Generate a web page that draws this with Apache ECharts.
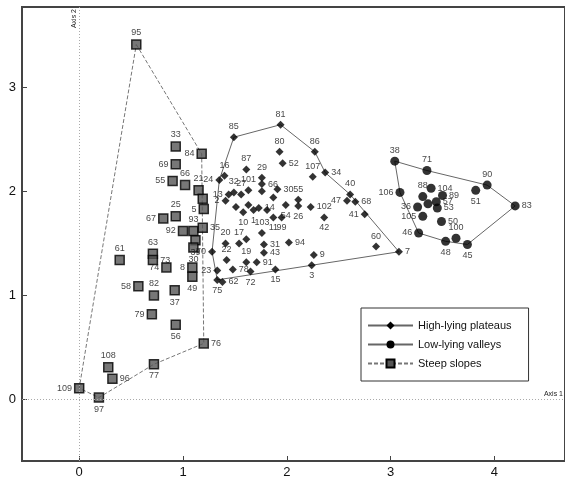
<!DOCTYPE html>
<html>
<head>
    <meta charset="utf-8">
    <title>Axis 1 / Axis 2</title>
    <script src="https://cdn.jsdelivr.net/npm/echarts@6/dist/echarts.min.js"></script>
    <style>
        html, body { margin: 0; padding: 0; background: #fff; }
        #main { width: 565px; height: 479px; }
    </style>
</head>
<body>
    <div id="main"></div>
    <script>
        // steep slopes (squares)
        var steepNames = ['95','84','33','69','55','66','21','','5','25','67','92','93','35','39','30','61','63','73','74','8','49','58','82','37','79','56','76','108','96','77','109','97']
        var steepX = [0.55,1.18,0.93,0.93,0.90,1.02,1.15,1.19,1.20,0.93,0.81,1.00,1.10,1.19,1.12,1.10,0.39,0.71,0.71,0.84,1.09,1.09,0.57,0.72,0.92,0.70,0.93,1.20,0.28,0.32,0.72,0.00,0.19]
        var steepY = [3.41,2.36,2.43,2.26,2.10,2.06,2.01,1.93,1.83,1.76,1.74,1.62,1.62,1.65,1.53,1.46,1.34,1.40,1.34,1.27,1.27,1.18,1.09,1.00,1.05,0.82,0.72,0.54,0.31,0.20,0.34,0.11,0.02]
        var steepLabelAt = ['t','l','t','l','l','t','t','','l','t','l','l','t','r','b','b','t','t','r','l','l','b','l','t','b','l','b','r','t','r','b','l','b']
        var steepHull = ['95','84','76','77','97','109','95']

        // low-lying valleys (circles)
        var lowNames = ['38','71','90','83','51','106','104','88','89','57','','36','53','105','50','46','100','48','45']
        var lowX = [3.04,3.35,3.93,4.20,3.82,3.09,3.39,3.31,3.50,3.44,3.36,3.26,3.45,3.31,3.49,3.27,3.63,3.53,3.74]
        var lowY = [2.29,2.20,2.06,1.86,2.01,1.99,2.03,1.95,1.96,1.90,1.88,1.85,1.84,1.76,1.71,1.60,1.55,1.52,1.49]
        var lowLabelAt = ['t','t','t','r','b','l','r','t','r','r','','l','r','l','r','l','t','b','b']
        var lowHull = ['38','71','90','83','45','48','46','106','38']

        // high-lying plateaus (diamonds)
        var highNames = ['85','81','80','86','87','52','107','34','29','16','24','66','65','30','55','26','54','102','42','40','47','68','41','60','7','9','3','94','31','43','103','17','28','20','22','19','91','72','15','75','62','23','78','70','13','32','27','2','101','64','10','1','14','11','99','12','44','18']
        var highX = [1.49,1.94,1.93,2.27,1.61,1.96,2.25,2.37,1.76,1.40,1.35,1.76,1.76,1.91,2.11,2.11,1.99,2.23,2.36,2.61,2.58,2.66,2.75,2.86,3.08,2.26,2.24,2.02,1.78,1.78,1.76,1.54,1.61,1.41,1.42,1.61,1.71,1.65,1.89,1.33,1.38,1.33,1.48,1.28,1.44,1.49,1.56,1.41,1.63,1.87,1.58,1.68,1.73,1.87,1.95,1.51,1.81,1.63]
        var highY = [2.52,2.64,2.38,2.38,2.21,2.27,2.14,2.18,2.13,2.15,2.11,2.07,2.00,2.02,1.92,1.86,1.87,1.85,1.75,1.97,1.91,1.90,1.78,1.47,1.42,1.39,1.29,1.51,1.49,1.41,1.60,1.50,1.54,1.50,1.34,1.32,1.32,1.23,1.25,1.15,1.13,1.24,1.25,1.42,1.97,1.99,1.97,1.91,2.01,1.94,1.80,1.82,1.84,1.75,1.75,1.85,1.82,1.87]
        var highLabelAt = ['t','t','t','t','t','r','t','r','t','t','l','r','','r','t','b','b','r','b','t','l','r','l','t','r','r','b','r','r','r','t','t','','t','t','t','r','b','b','b','r','l','r','l','l','t','t','l','t','','b','b','r','b','b','','','']
        var highHull = ['85','81','86','34','40','7','75','70','24','85']

        var xTicks = [0, 1, 2, 3, 4]
        var yTicks = [0, 1, 2, 3]

        var posMap = {t: 'top', b: 'bottom', l: 'left', r: 'right'}

        var makePoints = function(names, xs, ys, at) {
            var out = []
            for (var i = 0; i < names.length; i++) {
                var p = {name: names[i], value: [xs[i], ys[i]]}
                if (at[i] == '' || names[i] == '') {
                    p.label = {show: false}
                } else {
                    p.label = {position: posMap[at[i]]}
                }
                out.push(p)
            }
            return out
        }

        var makeHull = function(order, names, xs, ys) {
            var out = []
            for (var name of order) {
                var i = names.indexOf(name)
                out.push([xs[i], ys[i]])
            }
            return out
        }

        var font = 'Liberation Sans, Arial, sans-serif'
        var pointLabel = {
            show: true,
            formatter: '{b}',
            fontSize: 9,
            fontFamily: font,
            color: '#111',
            distance: 2
        }

        var myChart = echarts.init(document.querySelector('#main'))

        var option = {
            animation: false,
            textStyle: {fontFamily: font},
            grid: {
                left: 22, top: 7, right: -3, bottom: 13,
                show: true,
                borderColor: '#444',
                borderWidth: 2
            },
            legend: {
                orient: 'vertical',
                left: 361,
                top: 308,
                padding: [12, 17, 12, 6],
                itemWidth: 45,
                itemHeight: 10,
                itemGap: 8,
                borderColor: '#333',
                borderWidth: 1,
                backgroundColor: '#fff',
                textStyle: {fontSize: 11, color: '#111', fontFamily: font},
                data: ['High-lying plateaus', 'Low-lying valleys', 'Steep slopes']
            },
            xAxis: {
                type: 'value',
                min: -0.551,
                max: 4.68,
                splitLine: {show: false},
                axisLine: {onZero: false, lineStyle: {color: '#444', width: 2}},
                axisTick: {inside: true, length: 5, lineStyle: {color: '#444'}},
                axisLabel: {
                    fontSize: 13, color: '#111', margin: 5,
                    showMinLabel: false, showMaxLabel: false,
                    formatter: function(v) { return xTicks.indexOf(v) >= 0 ? String(v) : '' }
                }
            },
            yAxis: {
                type: 'value',
                min: -0.589,
                max: 3.77,
                splitLine: {show: false},
                axisLine: {onZero: false, lineStyle: {color: '#444', width: 2}},
                axisTick: {inside: true, length: 5, lineStyle: {color: '#444'}},
                axisLabel: {
                    fontSize: 13, color: '#111', margin: 6,
                    showMinLabel: false, showMaxLabel: false,
                    formatter: function(v) { return yTicks.indexOf(v) >= 0 ? String(v) : '' }
                }
            },
            series: [
                {
                    name: 'High-lying plateaus',
                    type: 'line',
                    data: makeHull(highHull, highNames, highX, highY),
                    symbol: 'diamond',
                    symbolSize: 8,
                    showSymbol: false,
                    silent: true,
                    itemStyle: {color: '#000'},
                    lineStyle: {color: '#666', width: 1}
                },
                {
                    name: 'Low-lying valleys',
                    type: 'line',
                    data: makeHull(lowHull, lowNames, lowX, lowY),
                    symbol: 'circle',
                    symbolSize: 9,
                    showSymbol: false,
                    silent: true,
                    itemStyle: {color: '#000'},
                    lineStyle: {color: '#666', width: 1}
                },
                {
                    name: 'Steep slopes',
                    type: 'line',
                    data: makeHull(steepHull, steepNames, steepX, steepY),
                    symbol: 'rect',
                    symbolSize: 9,
                    showSymbol: false,
                    silent: true,
                    itemStyle: {color: '#555', borderColor: '#000', borderWidth: 1.5},
                    lineStyle: {color: '#777', width: 1, type: [4, 2]},
                    markLine: {
                        silent: true,
                        symbol: 'none',
                        lineStyle: {color: '#aaa', width: 1, type: [1, 2]},
                        label: {
                            show: true,
                            position: 'insideEndTop',
                            fontSize: 7,
                            color: '#222',
                            distance: 2
                        },
                        data: [
                            {xAxis: 0, label: {formatter: 'Axis 2'}},
                            {yAxis: 0, label: {formatter: 'Axis 1'}}
                        ]
                    }
                },
                {
                    name: 'High-lying plateaus',
                    type: 'scatter',
                    data: makePoints(highNames, highX, highY, highLabelAt),
                    symbol: 'diamond',
                    symbolSize: 8,
                    itemStyle: {color: '#000'},
                    label: pointLabel,
                    z: 3
                },
                {
                    name: 'Low-lying valleys',
                    type: 'scatter',
                    data: makePoints(lowNames, lowX, lowY, lowLabelAt),
                    symbol: 'circle',
                    symbolSize: 9,
                    itemStyle: {color: '#000'},
                    label: pointLabel,
                    z: 3
                },
                {
                    name: 'Steep slopes',
                    type: 'scatter',
                    data: makePoints(steepNames, steepX, steepY, steepLabelAt),
                    symbol: 'rect',
                    symbolSize: 9,
                    itemStyle: {color: '#555', borderColor: '#000', borderWidth: 1.5},
                    label: pointLabel,
                    z: 3
                }
            ]
        }

        myChart.setOption(option)
    </script>
</body>
</html>
